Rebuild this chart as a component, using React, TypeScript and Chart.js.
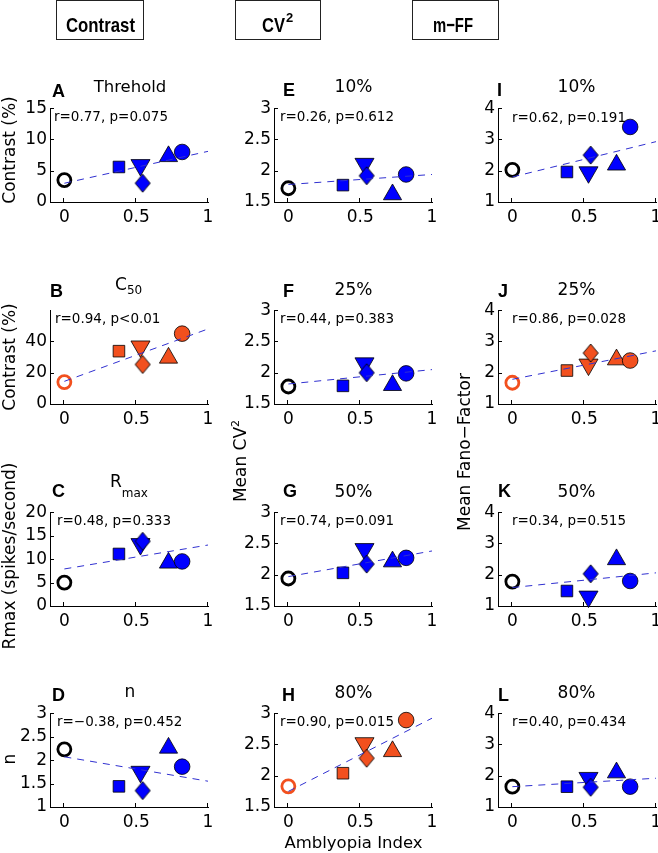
import React, { useEffect, useRef } from 'react';
import { Chart, registerables } from 'chart.js';

Chart.register(...registerables);

const FONT = '"DejaVu Sans", Verdana, sans-serif';
const BOLD_FONT = '"Liberation Sans", Arial, Helvetica, sans-serif';

// ---- data ----
const amblyopiaIndex = [0, 0.38, 0.53, 0.545, 0.725, 0.82];
const xTicks = [0, 0.5, 1];
const fitX = [0, 1];

// Contrast column
const thresholdVals = [3.5, 5.6, 5.9, 3.0, 7.3, 8.0];
const thresholdFit = [3.0, 8.1];
const c50Vals = [14, 33.8, 36.8, 25.3, 29.5, 45];
const c50Fit = [14.5, 48];
const rmaxVals = [5.0, 11.1, 13.2, 13.8, 9.2, 9.5];
const rmaxFit = [7.9, 13.0];
const nVals = [2.23, 1.44, 1.75, 1.35, 2.26, 1.86];
const nFit = [2.07, 1.55];

// CV^2 column
const cv10Vals = [1.72, 1.77, 2.11, 1.92, 1.62, 1.94];
const cv10Fit = [1.78, 1.94];
const cv25Vals = [1.78, 1.79, 2.15, 2.0, 1.8, 1.99];
const cv25Fit = [1.82, 2.05];
const cv50Vals = [1.94, 2.03, 2.41, 2.17, 2.21, 2.27];
const cv50Fit = [1.97, 2.38];
const cv80Vals = [1.83, 2.04, 2.52, 2.28, 2.39, 2.89];
const cv80Fit = [1.75, 2.92];

// m-FF column
const ff10Vals = [2.03, 1.96, 1.95, 2.5, 2.19, 3.4];
const ff10Fit = [1.8, 2.93];
const ff25Vals = [1.68, 2.07, 2.26, 2.63, 2.42, 2.39];
const ff25Fit = [1.79, 2.7];
const ff50Vals = [1.78, 1.48, 1.3, 2.03, 2.49, 1.8];
const ff50Fit = [1.59, 2.06];
const ff80Vals = [1.65, 1.65, 1.93, 1.63, 2.1, 1.65];
const ff80Fit = [1.65, 1.92];

// tick label sets
const thresholdTicks = [0, 5, 10, 15];
const c50Ticks = [0, 20, 40];
const rmaxTicks = [0, 5, 10, 15, 20];
const nTicks = [1, 1.5, 2, 2.5, 3];
const cvTicks = [1.5, 2, 2.5, 3];
const ffTicks = [1, 2, 3, 4];

const rTexts = [
  'r=0.77, p=0.075', 'r=0.94, p<0.01', 'r=0.48, p=0.333', 'r=\u22120.38, p=0.452',
  'r=0.26, p=0.612', 'r=0.44, p=0.383', 'r=0.74, p=0.091', 'r=0.90, p=0.015',
  'r=0.62, p=0.191', 'r=0.86, p=0.028', 'r=0.34, p=0.515', 'r=0.40, p=0.434',
];

// ---- styles ----
const BLUE = '#0000FF';
const ORANGE = '#F2501E';
const FIT_COLOR = '#3030D0';
const markerStyles = ['circle', 'rect', 'triangle', 'diamond', 'triangle', 'circle'];
const markerRotation = [0, 0, 180, 0, 0, 0];
const markerRadius = [6.5, 8.2, 11, 9, 10.5, 7.8];

// ---- layout ----
const PL = [50, 274, 498];
const PTOP = [107, 309, 511, 712];
const PW = 158;
const PH = 95;
const YW = 48;
const PAD_T = 12;
const PAD_R = 12;
const XH = 30;
const CW = YW + PW + PAD_R;
const CH = PAD_T + PH + XH;

type PanelDef = {
  col: number; row: number; values: number[]; fit: number[];
  yMin: number; yMax: number; yTicks: number[]; orange: boolean;
};

const panels: PanelDef[] = [
  { col: 0, row: 0, values: thresholdVals, fit: thresholdFit, yMin: 0, yMax: 15, yTicks: thresholdTicks, orange: false },
  { col: 0, row: 1, values: c50Vals, fit: c50Fit, yMin: 0, yMax: 60, yTicks: c50Ticks, orange: true },
  { col: 0, row: 2, values: rmaxVals, fit: rmaxFit, yMin: 0, yMax: 20, yTicks: rmaxTicks, orange: false },
  { col: 0, row: 3, values: nVals, fit: nFit, yMin: 1, yMax: 3, yTicks: nTicks, orange: false },
  { col: 1, row: 0, values: cv10Vals, fit: cv10Fit, yMin: 1.5, yMax: 3, yTicks: cvTicks, orange: false },
  { col: 1, row: 1, values: cv25Vals, fit: cv25Fit, yMin: 1.5, yMax: 3, yTicks: cvTicks, orange: false },
  { col: 1, row: 2, values: cv50Vals, fit: cv50Fit, yMin: 1.5, yMax: 3, yTicks: cvTicks, orange: false },
  { col: 1, row: 3, values: cv80Vals, fit: cv80Fit, yMin: 1.5, yMax: 3, yTicks: cvTicks, orange: true },
  { col: 2, row: 0, values: ff10Vals, fit: ff10Fit, yMin: 1, yMax: 4, yTicks: ffTicks, orange: false },
  { col: 2, row: 1, values: ff25Vals, fit: ff25Fit, yMin: 1, yMax: 4, yTicks: ffTicks, orange: true },
  { col: 2, row: 2, values: ff50Vals, fit: ff50Fit, yMin: 1, yMax: 4, yTicks: ffTicks, orange: false },
  { col: 2, row: 3, values: ff80Vals, fit: ff80Fit, yMin: 1, yMax: 4, yTicks: ffTicks, orange: false },
];

// Matlab-like diamond (taller than wide) as an image point style
function makeDiamond(fill: string): HTMLCanvasElement {
  const c = document.createElement('canvas');
  c.width = 18;
  c.height = 22;
  const ctx = c.getContext('2d') as CanvasRenderingContext2D;
  ctx.beginPath();
  ctx.moveTo(9, 2);
  ctx.lineTo(16.5, 11);
  ctx.lineTo(9, 20);
  ctx.lineTo(1.5, 11);
  ctx.closePath();
  ctx.fillStyle = fill;
  ctx.fill();
  ctx.lineWidth = 0.9;
  ctx.strokeStyle = '#000';
  ctx.stroke();
  return c;
}

const inwardTicks = {
  id: 'inwardTicks',
  afterDraw(chart: any) {
    const { ctx, chartArea, scales } = chart;
    ctx.save();
    ctx.strokeStyle = '#000';
    ctx.lineWidth = 1;
    ctx.beginPath();
    scales.x.ticks.forEach((t: any) => {
      const px = Math.round(scales.x.getPixelForValue(t.value)) - 0.5;
      ctx.moveTo(px, chartArea.bottom);
      ctx.lineTo(px, chartArea.bottom - 4);
    });
    scales.y.ticks.forEach((t: any) => {
      const py = Math.round(scales.y.getPixelForValue(t.value)) + 0.5;
      ctx.moveTo(chartArea.left, py);
      ctx.lineTo(chartArea.left + 4, py);
    });
    ctx.stroke();
    ctx.restore();
  },
};

function Panel({ p }: { p: PanelDef }) {
  const ref = useRef<HTMLCanvasElement>(null);
  useEffect(() => {
    const fill = p.orange ? ORANGE : BLUE;
    const ring = p.orange ? ORANGE : '#000';
    const diamond = makeDiamond(fill);
    const styles = markerStyles.map((s) => (s === 'diamond' ? diamond : s));
    const chart = new Chart(ref.current as HTMLCanvasElement, {
      type: 'scatter',
      data: {
        datasets: [
          {
            type: 'line',
            data: fitX.map((x, i) => ({ x, y: p.fit[i] })),
            borderColor: FIT_COLOR,
            borderWidth: 1,
            borderDash: [7, 6],
            pointRadius: 0,
            fill: false,
            clip: false,
          } as any,
          {
            data: amblyopiaIndex.map((x, i) => ({ x, y: p.values[i] })),
            pointStyle: styles as any,
            pointRotation: markerRotation,
            pointRadius: markerRadius,
            pointHoverRadius: markerRadius,
            pointBackgroundColor: ['rgba(0,0,0,0)', fill, fill, fill, fill, fill],
            pointBorderColor: [ring, '#000', '#000', '#000', '#000', '#000'],
            pointBorderWidth: [2.8, 0.8, 0.8, 0.8, 0.8, 0.8],
            clip: false,
          } as any,
        ],
      },
      options: {
        animation: false,
        responsive: false,
        events: [],
        layout: { padding: { top: PAD_T, right: PAD_R, left: 0, bottom: 0 } },
        plugins: { legend: { display: false }, tooltip: { enabled: false } },
        scales: {
          x: {
            type: 'linear',
            min: -0.1,
            max: 1,
            afterBuildTicks: (s: any) => { s.ticks = xTicks.map((v) => ({ value: v })); },
            afterFit: (s: any) => { s.height = XH; },
            grid: { display: false, drawTicks: false },
            border: { display: true, color: '#000', width: 1 },
            ticks: {
              color: '#000',
              font: { family: FONT, size: 17 },
              padding: 5,
              maxRotation: 0,
              autoSkip: false,
              callback: (v: any) => String(v),
            },
          },
          y: {
            type: 'linear',
            min: p.yMin,
            max: p.yMax,
            afterBuildTicks: (s: any) => { s.ticks = p.yTicks.map((v) => ({ value: v })); },
            afterFit: (s: any) => { s.width = YW; },
            grid: { display: false, drawTicks: false },
            border: { display: true, color: '#000', width: 1 },
            ticks: {
              color: '#000',
              font: { family: FONT, size: 17 },
              padding: 3,
              autoSkip: false,
              callback: (v: any) => String(v),
            },
          },
        },
      } as any,
      plugins: [inwardTicks],
    });
    return () => chart.destroy();
  }, []);
  return (
    <canvas
      ref={ref}
      width={CW}
      height={CH}
      style={{ position: 'absolute', left: PL[p.col] - YW, top: PTOP[p.row] - PAD_T, width: CW, height: CH }}
    />
  );
}

const letters: [string, number, number][] = [
  ['A', 52, 97], ['B', 50, 297], ['C', 52, 497], ['D', 52, 701],
  ['E', 283, 96], ['F', 283, 297], ['G', 283, 497], ['H', 282, 701],
  ['I', 497, 96], ['J', 498, 297], ['K', 498, 497], ['L', 498, 701],
];

const rPos: [number, number][] = [
  [54, 121], [55, 323], [57, 525], [57, 726],
  [280, 121], [280, 323], [280, 525], [280, 726],
  [512, 122], [512, 323], [512, 525], [512, 726],
];

const pctTitles: [string, number, number][] = [
  ['10%', 353.5, 92], ['25%', 353.5, 295], ['50%', 353.5, 497], ['80%', 353.5, 698],
  ['10%', 576.5, 92], ['25%', 576.5, 295], ['50%', 576.5, 497], ['80%', 576.5, 698],
];

export default function App() {
  return (
    <div style={{ position: 'absolute', left: 0, top: 0, width: 658, height: 853, overflow: 'hidden', background: '#fff' }}>
      {panels.map((p, i) => <Panel key={i} p={p} />)}
      <svg width={658} height={853} style={{ position: 'absolute', left: 0, top: 0 }}>
        {/* column headers */}
        <rect x={56.5} y={0.5} width={87} height={39} fill="none" stroke="#222" strokeWidth={1} />
        <rect x={235.5} y={0.5} width={85} height={39} fill="none" stroke="#222" strokeWidth={1} />
        <rect x={412.5} y={0.5} width={86} height={39} fill="none" stroke="#222" strokeWidth={1} />
        <text x={66} y={32} fontFamily={BOLD_FONT} fontWeight="bold" fontSize={21} textLength={69} lengthAdjust="spacingAndGlyphs">Contrast</text>
        <text x={262} y={32} fontFamily={BOLD_FONT} fontWeight="bold" fontSize={21} textLength={23} lengthAdjust="spacingAndGlyphs">CV</text>
        <text x={286} y={22} fontFamily={BOLD_FONT} fontWeight="bold" fontSize={13}>2</text>
        <text x={433} y={32} fontFamily={BOLD_FONT} fontWeight="bold" fontSize={21} textLength={40} lengthAdjust="spacingAndGlyphs">m{'\u2212'}FF</text>

        {letters.map(([t, x, y], i) => (
          <text key={'l' + i} x={x} y={y} fontFamily={BOLD_FONT} fontWeight="bold" fontSize={18}>{t}</text>
        ))}

        {/* titles */}
        <text x={130} y={92} fontFamily={FONT} fontSize={16.5} textAnchor="middle">Threhold</text>
        <text x={115} y={290} fontFamily={FONT} fontSize={17}>C<tspan fontSize={12} dy={3.5}>50</tspan></text>
        <text x={110} y={487} fontFamily={FONT} fontSize={17}>R<tspan fontSize={12} dy={10}>max</tspan></text>
        <text x={130} y={697} fontFamily={FONT} fontSize={17} textAnchor="middle">n</text>
        {pctTitles.map(([t, x, y], i) => (
          <text key={'t' + i} x={x} y={y} fontFamily={FONT} fontSize={17} textAnchor="middle">{t}</text>
        ))}

        {rTexts.map((t, i) => (
          <text key={'r' + i} x={rPos[i][0]} y={rPos[i][1]} fontFamily={FONT} fontSize={13.5}>{t}</text>
        ))}

        {/* axis labels */}
        <text transform="translate(14.5,150) rotate(-90)" fontFamily={FONT} fontSize={17} textAnchor="middle">Contrast (%)</text>
        <text transform="translate(14.5,357) rotate(-90)" fontFamily={FONT} fontSize={17} textAnchor="middle">Contrast (%)</text>
        <text transform="translate(14.5,556) rotate(-90)" fontFamily={FONT} fontSize={17} textAnchor="middle">Rmax (spikes/second)</text>
        <text transform="translate(14.5,759) rotate(-90)" fontFamily={FONT} fontSize={17} textAnchor="middle">n</text>
        <text transform="translate(245.5,461) rotate(-90)" fontFamily={FONT} fontSize={17} textAnchor="middle">Mean CV<tspan fontSize={11} dy={-7}>2</tspan></text>
        <text transform="translate(470,452) rotate(-90)" fontFamily={FONT} fontSize={17} textAnchor="middle">Mean Fano{'\u2212'}Factor</text>
        <text x={353.5} y={848} fontFamily={FONT} fontSize={16.5} textAnchor="middle">Amblyopia Index</text>
      </svg>
    </div>
  );
}
